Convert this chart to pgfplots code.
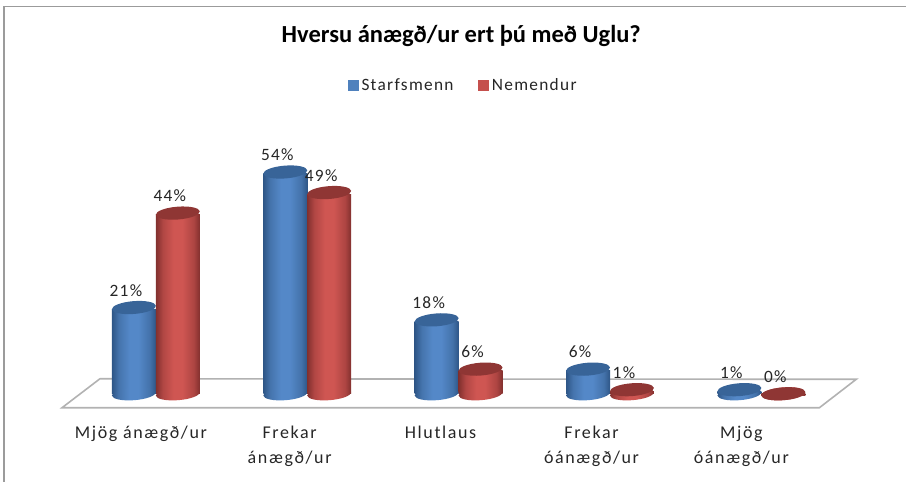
\documentclass[border=0pt]{standalone}
\usepackage{fontspec}
\usepackage{pgfplots}
\usepackage{pgfplotstable}
\pgfplotsset{compat=1.18}
\setmainfont{Carlito}
\newfontfamily\spaced[LetterSpace=7.5]{Carlito}
\newfontfamily\wide[LetterSpace=9]{Carlito}

\definecolor{bluemid}{RGB}{79,129,189}
\definecolor{bluelite}{RGB}{84,136,200}
\definecolor{blueedge}{RGB}{46,86,135}
\definecolor{bluetop}{RGB}{56,100,152}
\definecolor{redmid}{RGB}{197,80,77}
\definecolor{redlite}{RGB}{207,86,82}
\definecolor{rededge}{RGB}{130,48,46}
\definecolor{redtop}{RGB}{143,54,52}
\definecolor{floorline}{RGB}{178,178,178}
\definecolor{frameline}{RGB}{155,155,155}

% the path's box is mapped on to the middle 50bp of a shading
\pgfdeclarehorizontalshading{bluecyl}{100bp}{color(0bp)=(blueedge); color(25bp)=(blueedge); color(33bp)=(bluemid!70!blueedge); color(45bp)=(bluelite); color(55bp)=(bluelite); color(68bp)=(bluemid!65!blueedge); color(75bp)=(blueedge); color(100bp)=(blueedge)}
\pgfdeclarehorizontalshading{redcyl}{100bp}{color(0bp)=(rededge); color(25bp)=(rededge); color(33bp)=(redmid!70!rededge); color(45bp)=(redlite); color(55bp)=(redlite); color(68bp)=(redmid!65!rededge); color(75bp)=(rededge); color(100bp)=(rededge)}

% tilted ellipses for the cylinder ends
\newcommand{\cylpath}{\pgfpathellipse{\pgfpointorigin}{\pgfqpoint{16.5pt}{1.3pt}}{\pgfqpoint{-0.38pt}{4.8pt}}}
\pgfdeclareplotmark{bluecap}{\cylpath\pgfsetfillcolor{bluetop}\pgfusepathqfill}
\pgfdeclareplotmark{redcap}{\cylpath\pgfsetfillcolor{redtop}\pgfusepathqfill}
\pgfdeclareplotmark{bluefoot}{\cylpath\pgfshadepath{bluecyl}{0}\pgfusepath{discard}}
\pgfdeclareplotmark{redfoot}{\cylpath\pgfshadepath{redcyl}{0}\pgfusepath{discard}}

\pgfplotstableread{
x v
0 21
1 54
2 18
3 6
4 1
}\starfsmenn
\pgfplotstableread{
x v
0 44
1 49
2 6
3 1
4 0
}\nemendur

\pgfplotsset{
  cylbar/.style={ybar, bar width=33pt, bar shift=0pt, draw=none, forget plot, y filter/.expression={y-0.4}},
  cylcap/.style={only marks, forget plot, mark=#1, nodes near coords={\pgfmathprintnumber{\pgfplotspointmeta}\%},
    every node near coord/.append style={anchor=center, xshift=-6pt, yshift=12.75pt, font=\spaced\fontsize{13}{14}\selectfont, text=black!85}},
  cylfoot/.style={only marks, forget plot, mark=#1},
}

\begin{document}
\begin{tikzpicture}
\begin{axis}[
  scale only axis,
  width=680.25pt,
  height=361.5pt,
  xmin=-1.0297, xmax=4.957,
  ymin=-21.41, ymax=95.86,
  clip=false,
  /pgf/number format/assume math mode=true,
  axis line style={draw=none},
  major tick length=0pt,
  ytick=\empty,
  xtick={-0.099,0.884,1.881,2.878,3.868},
  xticklabels={Mjög ánægð/ur,Frekar\\ánægð/ur,Hlutlaus,Frekar\\óánægð/ur,Mjög\\óánægð/ur},
  xticklabel style={align=center, anchor=north, yshift=45pt, font=\wide\fontsize{13.5}{18.75}\selectfont, text=black!85},
  title={Hversu ánægð/ur ert þú með Uglu?},
  title style={at={(0.509,1)}, anchor=center, yshift=-33pt, font=\bfseries\fontsize{18.4}{20}\selectfont},
  legend columns=2,
  legend style={at={(0.5115,1)}, anchor=center, yshift=-64.2pt, draw=none, fill=none,
    font=\spaced\fontsize{13}{15}\selectfont, text=black!85,
    /tikz/every even column/.append style={column sep=16.5pt}},
  legend image code/.code={\fill[draw=none,#1] (0pt,-4pt) rectangle (8.25pt,4.25pt);},
]
% frame of the picture
\addplot[forget plot, frameline, line width=1.2pt] coordinates {(-1.003,-21.41) (-1.003,94.3) (4.957,94.3)};
% floor
\addplot[forget plot, floorline, line width=1.2pt, fill=white] coordinates {(-0.3696,3.65) (-0.6205,-3.41) (4.383,-3.41) (4.627,3.53) (-0.3696,3.65)};

\addlegendimage{fill=bluemid}
\addlegendentry{Starfsmenn}
\addlegendimage{fill=redmid}
\addlegendentry{Nemendur}

% ybar makes one path of a whole series, so each bar gets a plot of its own to be shaded alone
\addplot[cylfoot=bluefoot] table[x expr=\thisrow{x}-0.145, y expr=0] {\starfsmenn};
\pgfplotsinvokeforeach{-0.3:0.3,0.7:1.3,1.7:2.3,2.7:3.3,3.7:4.3}{
  \addplot[cylbar, shading=bluecyl, restrict x to domain=#1] table[x expr=\thisrow{x}-0.145, y=v] {\starfsmenn};
}
\addplot[cylcap=bluecap] table[x expr=\thisrow{x}-0.145, y=v] {\starfsmenn};

\addplot[cylfoot=redfoot] table[x expr=\thisrow{x}+0.145, y expr=0] {\nemendur};
\pgfplotsinvokeforeach{-0.3:0.3,0.7:1.3,1.7:2.3,2.7:3.3,3.7:4.3}{
  \addplot[cylbar, shading=redcyl, restrict x to domain=#1] table[x expr=\thisrow{x}+0.145, y=v] {\nemendur};
}
\addplot[cylcap=redcap] table[x expr=\thisrow{x}+0.145, y=v] {\nemendur};
\end{axis}
\end{tikzpicture}
\end{document}
